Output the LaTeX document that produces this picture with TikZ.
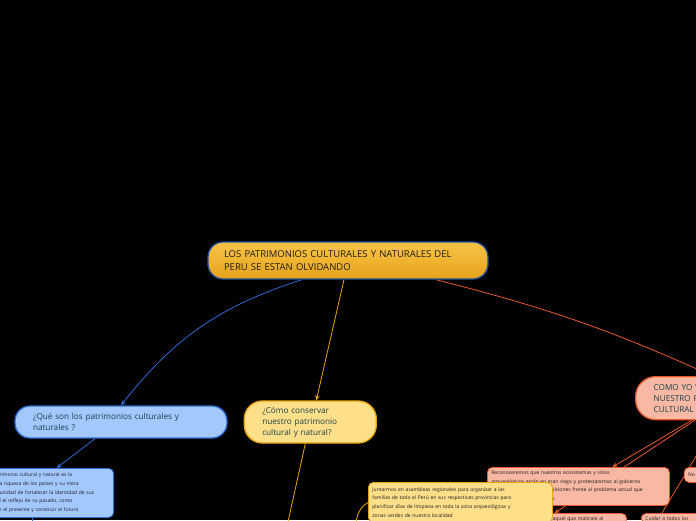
\documentclass[tikz,border=0pt]{standalone}
\usepackage{fontspec}
\setmainfont{Open Sans}
\usepackage{tikz}
\usetikzlibrary{arrows.meta,positioning,backgrounds}

\definecolor{goldtop}{HTML}{F8C446}
\definecolor{goldbot}{HTML}{E6A21C}
\definecolor{navyline}{HTML}{1E4F9C}
\definecolor{skyfill}{HTML}{A3C8FF}
\definecolor{skyline}{HTML}{2E6BD3}
\definecolor{sandfill}{HTML}{FFDF8A}
\definecolor{sandline}{HTML}{E8A60C}
\definecolor{coralfill}{HTML}{F8B8A4}
\definecolor{coralline}{HTML}{E85A2C}
\definecolor{inkteal}{HTML}{17434A}
\definecolor{inkdark}{HTML}{1E1E1E}

\begin{document}
\begin{tikzpicture}[
  x=1pt,y=-1pt,
  topic/.style={draw,line width=1.3pt,align=left,text=inkteal,
    inner xsep=18pt,inner ysep=0pt,font=\fontsize{8.2}{11}\selectfont},
  note/.style={draw,line width=0.8pt,rounded corners=5pt,align=left,
    text=inkdark,inner xsep=4pt,inner ysep=3pt,font=\fontsize{5}{8.7}\selectfont},
  arrow/.style={-{Stealth[length=5pt,width=4.5pt]},line width=0.8pt},
]
  \useasboundingbox (0,0) rectangle (696,520);

  \node[topic,top color=goldtop,bottom color=goldbot,draw=navyline,
    rounded corners=15pt,inner xsep=16pt,text=inkdark,
    font=\fontsize{9.5}{13.5}\selectfont,text width=248pt,minimum height=37pt]
    (main) at (348,260.5) {LOS PATRIMONIOS CULTURALES Y NATURALES DEL\\
    PERU SE ESTAN OLVIDANDO};
  \node[topic,fill=skyfill,draw=skyline,rounded corners=15pt,text width=176pt,
    minimum height=32pt] (que) at (121,422)
    {¿Qué son los patrimonios culturales y\\naturales ?};
  \node[topic,fill=sandfill,draw=sandline,rounded corners=18pt,text width=96pt,
    minimum height=42pt,right=16pt of que] (como)
    {¿Cómo conservar\\nuestro patrimonio\\cultural y natural?};
  \node[topic,fill=coralfill,draw=coralline,rounded corners=20pt,text width=74pt,
    minimum height=43pt,anchor=north west] (cmo) at (635,376)
    {COMO YO Y\\NUESTRO P\\CULTURAL};

  \node[note,fill=skyfill,draw=skyline,text width=110pt,minimum height=49pt,
    anchor=north east] (lb) at (114,468)
    {rimonio cultural y natural es la\\a riqueza de los países y su mera\\
    unidad de fortalecer la identidad de sus\\í el reflejo de su pasado, como\\
    r el presente y construir el futuro};
  \node[note,fill=coralfill,draw=coralline,text width=174pt,minimum height=38pt,
    anchor=north west] (reco) at (487,467)
    {Reconoceremos que nuestros ecosistemas y sitios\\
    arqueológicos están en gran riego y protestaremos al gobierno\\
    con todas nuestras proposiciones frente al problema actual que\\
    enfrenta hoy nuestro Perú.};
  \node[note,fill=coralfill,draw=coralline,text width=30pt,minimum height=15pt,
    right=14pt of reco.north east,anchor=north west] (no) {No};
  \node[note,fill=coralfill,draw=coralline,text width=70pt,anchor=north east]
    (malt) at (627,513) {aquel que maltrate al};
  \node[note,fill=coralfill,draw=coralline,text width=60pt,anchor=north west]
    (cui) at (641,513) {Cuidar a todos los};
  \node[note,fill=sandfill,draw=sandline,text width=176pt,minimum height=40pt,
    anchor=north west] (junta) at (368,482)
    {Juntarmos en asambleas regionales para organizar a las\\
    familias de todo el Perú en sus respectivas provincias para\\
    planificar días de limpieza en toda la zona arqueológicas y\\
    zonas verdes de nuestra localidad};

  \coordinate (bdown) at (33,540);
  \coordinate (gdown) at (284,540);
  \coordinate (gcurve) at (354,534);

  \begin{scope}[on background layer]
    \fill[black] (0,0) rectangle (696,520);
    \draw[arrow,color=skyline] ([xshift=-46pt]main.south) to[bend right=17] (que.north);
    \draw[arrow,color=sandline] ([xshift=-4pt]main.south) -- ([xshift=6pt]como.north);
    \draw[arrow,color=coralline] ([xshift=-53pt]main.south east) to[bend left=5]
      ([xshift=22pt]cmo.north);
    \draw[arrow,color=skyline] ([xshift=-26pt]que.south) -- ([xshift=2pt]lb.north);
    \draw[line width=0.8pt,color=skyline] ([xshift=-22pt]lb.south) -- (bdown);
    \draw[line width=0.8pt,color=sandline] ([xshift=-5pt]como.south) -- (gdown);
    \draw[line width=0.8pt,color=sandline] (gcurve) to[out=80,in=210] (junta.west);
    \draw[arrow,color=coralline] ([xshift=1pt]cmo.south) -- ([xshift=34pt]reco.north);
    \draw[arrow,color=coralline] ([xshift=4pt]cmo.south) -- ([xshift=-33pt]malt.north);
    \draw[line width=0.8pt,color=coralline] ([xshift=27pt]cmo.south)
      -- ([xshift=21pt]cui.north west);
  \end{scope}
\end{tikzpicture}
\end{document}
